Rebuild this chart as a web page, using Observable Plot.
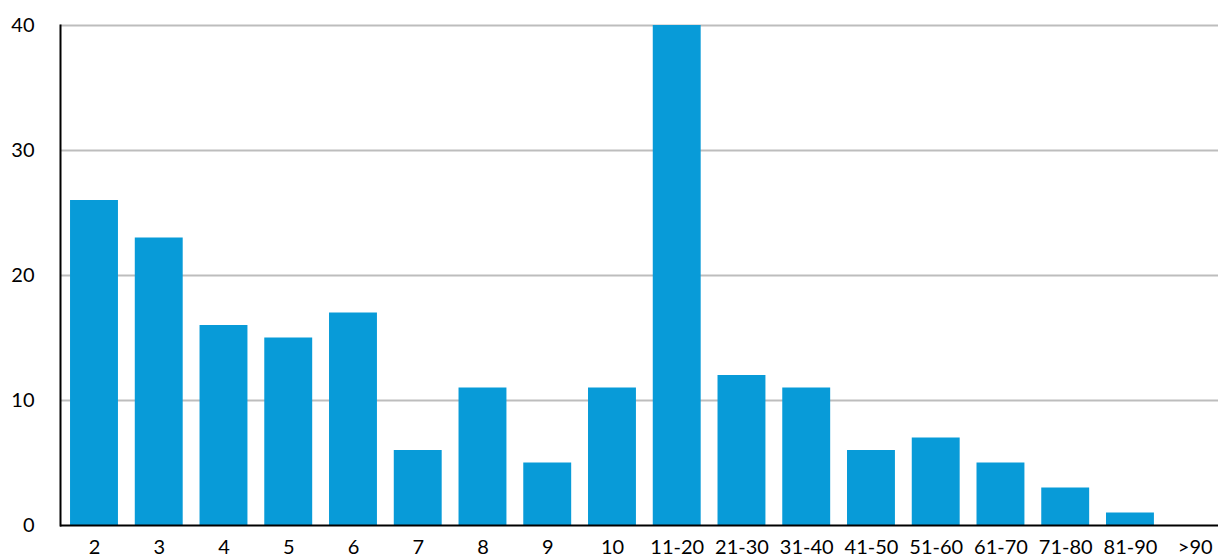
<!DOCTYPE html>
<html>
<head>
<meta charset="utf-8">
<script src="https://cdn.jsdelivr.net/npm/d3@7"></script>
<script src="https://cdn.jsdelivr.net/npm/@observablehq/plot@0.6"></script>
<style>
  html, body { margin: 0; padding: 0; background: #fff; overflow: hidden; }
  #chart svg { display: block; }
</style>
</head>
<body>
<div id="chart"></div>
<script>
const categories = ["2","3","4","5","6","7","8","9","10","11-20","21-30","31-40","41-50","51-60","61-70","71-80","81-90",">90"];
const counts = [26, 23, 16, 15, 17, 6, 11, 5, 11, 40, 12, 11, 6, 7, 5, 3, 1, 0];
const yTicks = [0, 10, 20, 30, 40];

const data = categories.map((c, i) => ({category: c, count: counts[i]}));

const chart = Plot.plot({
  width: 1218,
  height: 560,
  marginLeft: 60,
  marginRight: 0,
  marginTop: 25,
  marginBottom: 35,
  style: {fontFamily: "Lato, 'Noto Sans', sans-serif", fontSize: "20px", color: "#000", background: "#fff"},
  x: {domain: categories, range: [53.2, 1235.5], padding: 0.26, round: false, label: null},
  y: {domain: [0, 40], label: null},
  marks: [
    Plot.ruleY(yTicks.filter(d => d > 0), {stroke: "#bdbdbd", strokeWidth: 2}),
    Plot.barY(data, {x: "category", y: "count", fill: "#089bd8"}),
    Plot.ruleY([0], {stroke: "#000", strokeWidth: 2}),
    Plot.frame({anchor: "left", stroke: "#000", strokeWidth: 2}),
    Plot.axisY({ticks: yTicks, tickSize: 0, tickPadding: 26, label: null, fontSize: 20}),
    Plot.axisX({tickSize: 0, tickPadding: 14, label: null, fontSize: 20})
  ]
});
document.getElementById("chart").appendChild(chart);
</script>
</body>
</html>
